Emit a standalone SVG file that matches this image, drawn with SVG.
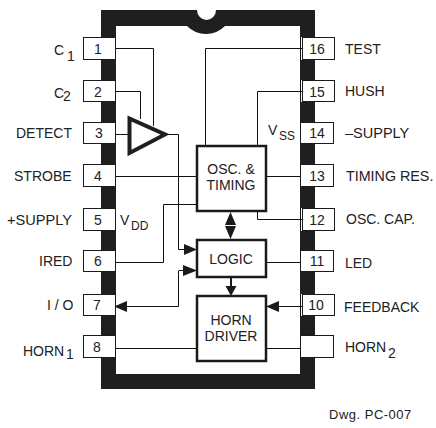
<svg xmlns="http://www.w3.org/2000/svg" width="436" height="428" viewBox="0 0 436 428">
<style>
text{font-family:"Liberation Sans",Arial,sans-serif;font-size:14px;fill:#222}
.n{text-anchor:middle}
.pin{fill:#fff;stroke:#1a1a1a;stroke-width:1}
.box{fill:#fff;stroke:#1a1a1a;stroke-width:2.500}
.w{fill:none;stroke:#111;stroke-width:1}
.sm{font-size:12px}
.a{fill:#1a1a1a}
.strip{fill:#fff}
</style>
<rect width="436" height="428" fill="#fff"/>
<g id="package">
<path fill="#1f1f1f" fill-rule="evenodd" d="M101 10H197A9.500 10 0 0 0 216 10H315V389H101ZM116 26V374H300V26H225A26.500 26.500 0 0 1 187 26Z"/>
<path class="strip" d="M300 37H303V60H300ZM300 80H303V102H300ZM300 208H303V231H300ZM300 294H303V316H300Z"/>
<path class="w" d="M300.500 37V60M300.500 80V102M300.500 208V231M300.500 294V316"/>
</g>
<g id="connectors">
<path class="w" d="M116 48.500H153.500V126M116 91.500H140.500V119M116 134.500H128M167 134.500H178.500V249.500H186M116 176.500H197M116 262.500H163.500V204.500H197M178.500 271V306.500H125M186 270.500H178.500"/>
<path class="w" d="M205.500 146V48.500H302M257.500 146V91.500H302M266 176.500H302M257.500 211V219.500H302M266 262.500H302M266 348.500H302M116 348.500H197M279 306.500H302"/>
<polygon class="a" points="197,249.500 184,244 184,255"/>
<polygon class="a" points="197,270.500 183,265 183,276"/>
<polygon class="a" points="114,306.500 127,301 127,312"/>
<polygon class="a" points="266,306.500 279,301 279,312"/>
<polygon class="a" points="230.500,212 225,225 236,225"/>
<polygon class="a" points="230.500,239 225,226 236,226"/>
<polygon class="a" points="231,296 225.500,286 236.500,286"/>
<rect class="a" x="230" y="277" width="2" height="10"/>
</g>
<g id="amplifier"><polygon points="129.500,118.500 165,134.500 129.500,153" fill="#fff" stroke="#1f1f1f" stroke-width="4"/></g>
<g id="osc"><rect class="box" x="197" y="146" width="69" height="65"/><text class="n" x="231" y="174">OSC. &amp;</text><text class="n" x="231" y="190">TIMING</text></g>
<g id="logic"><rect class="box" x="197" y="240" width="69" height="37"/><text class="n" x="231" y="264">LOGIC</text></g>
<g id="horn"><rect class="box" x="197" y="296" width="69" height="65"/><text class="n" x="231" y="325">HORN</text><text class="n" x="231" y="341">DRIVER</text></g>
<g id="pin1"><rect class="pin" x="83.500" y="37.500" width="32" height="22"/><text class="n" x="98" y="54">1</text><text x="54" y="55">C</text><text x="67" y="61">1</text></g>
<g id="pin2"><rect class="pin" x="83.500" y="80.500" width="32" height="21"/><text class="n" x="98" y="97">2</text><text x="54" y="98">C</text><text x="63" y="101">2</text></g>
<g id="pin3"><rect class="pin" x="83.500" y="122.500" width="32" height="21"/><text class="n" x="99" y="138">3</text><text x="16" y="138">DETECT</text></g>
<g id="pin4"><rect class="pin" x="83.500" y="164.500" width="32" height="22"/><text class="n" x="98" y="181">4</text><text x="14" y="181">STROBE</text></g>
<g id="pin5"><rect class="pin" x="83.500" y="208.500" width="32" height="22"/><text class="n" x="98" y="225">5</text><text x="7" y="225" style="font-size:14.600px">+SUPPLY</text><text x="120" y="225">V</text><text x="131" y="230" class="sm">DD</text></g>
<g id="pin6"><rect class="pin" x="83.500" y="250.500" width="32" height="21"/><text class="n" x="98" y="266">6</text><text x="39" y="266">IRED</text></g>
<g id="pin7"><rect class="pin" x="83.500" y="294.500" width="32" height="21"/><text class="n" x="97" y="310">7</text><text x="47" y="310">I / O</text></g>
<g id="pin8"><rect class="pin" x="83.500" y="335.500" width="32" height="22"/><text class="n" x="97" y="352">8</text><text x="23" y="356">HORN</text><text x="66" y="359">1</text></g>
<g id="pin16"><rect class="pin" x="302.500" y="37.500" width="32" height="22"/><text class="n" x="317" y="54">16</text><text x="345" y="54">TEST</text></g>
<g id="pin15"><rect class="pin" x="302.500" y="80.500" width="32" height="21"/><text class="n" x="317" y="97">15</text><text x="345" y="96">HUSH</text></g>
<g id="pin14"><rect class="pin" x="300.500" y="122.500" width="33" height="21"/><text class="n" x="317" y="138">14</text><text x="345" y="138" style="font-size:14.500px">–SUPPLY</text><text x="268" y="135">V</text><text x="279" y="140" class="sm">SS</text></g>
<g id="pin13"><rect class="pin" x="300.500" y="164.500" width="33" height="22"/><text class="n" x="317" y="181">13</text><text x="346" y="181" style="font-size:14.300px">TIMING RES.</text></g>
<g id="pin12"><rect class="pin" x="302.500" y="208.500" width="32" height="22"/><text class="n" x="317" y="225">12</text><text x="346" y="224">OSC. CAP.</text></g>
<g id="pin11"><rect class="pin" x="300.500" y="250.500" width="33" height="21"/><text class="n" x="317" y="266">11</text><text x="345" y="268">LED</text></g>
<g id="pin10"><rect class="pin" x="302.500" y="294.500" width="32" height="21"/><text class="n" x="316" y="310">10</text><text x="344" y="312">FEEDBACK</text></g>
<g id="pin9"><rect class="pin" x="300.500" y="335.500" width="33" height="22"/><text x="345" y="352">HORN</text><text x="388" y="358">2</text></g>
<text x="329" y="419" style="font-size:13px;letter-spacing:.5px">Dwg. PC-007</text>
</svg>
